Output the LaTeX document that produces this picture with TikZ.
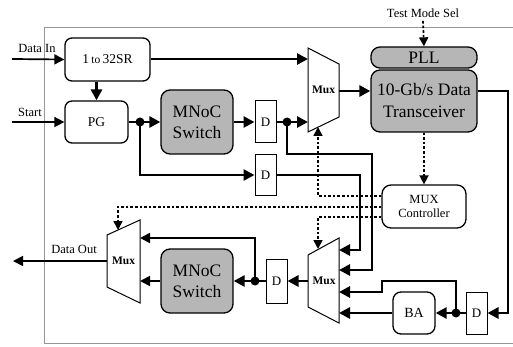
\documentclass[tikz,border=0pt]{standalone}
\usepackage{fontspec}
\setmainfont{Liberation Serif}
\usetikzlibrary{arrows.meta}
\definecolor{boxgray}{RGB}{182,182,182}
\definecolor{framegray}{RGB}{150,150,150}
\begin{document}
\begin{tikzpicture}[x=1pt,y=-1pt,
  rbox/.style={draw,line width=1.3pt,rounded corners=7pt,inner sep=0pt,align=center},
  gbox/.style={rbox,fill=boxgray,rounded corners=9pt},
  dbox/.style={draw,line width=1pt,inner sep=0pt,minimum width=21pt,font=\fontsize{13}{13}\selectfont},
  muxshape/.style={draw,line width=1pt,fill=white},
  muxlbl/.style={inner sep=0pt,font=\fontsize{11.5}{12}\selectfont\bfseries},
  thk/.style={line width=2.9pt,-{Triangle[length=11pt,width=11pt]}},
  thkn/.style={line width=2.9pt},
  thn/.style={line width=1.7pt,-{Triangle[length=10pt,width=10pt]}},
  dsh/.style={line width=1.7pt,dash pattern=on 2.6pt off 2pt,-{Triangle[length=9pt,width=9pt]}},
  jdot/.style={circle,fill=black,inner sep=0pt,minimum size=9pt},
  lbl/.style={inner sep=0pt,font=\fontsize{12.5}{13}\selectfont}
]
\useasboundingbox (0,0) rectangle (513,347);
% frame
\draw[framegray,line width=0.8pt] (530,27) -- (44,27) -- (44,343) -- (530,343);

% blocks
\node[rbox,minimum width=85pt,minimum height=43pt,font=\fontsize{13.5}{14}\selectfont] (sr) at (107.5,59.5) {1\,{\fontsize{11.5}{12}\selectfont to}\,32SR};
\node[rbox,minimum width=63pt,minimum height=42pt,font=\fontsize{13.5}{14}\selectfont] (pg) at (96.5,122) {PG};
\node[gbox,minimum width=72pt,minimum height=64pt,font=\fontsize{17.5}{21}\selectfont] (sw1) at (197,122) {MNoC\\Switch};
\node[dbox,minimum height=42pt] (d1) at (265.5,122) {D};
\node[dbox,minimum height=41pt] (d2) at (265.5,175) {D};
\node[gbox,minimum width=106pt,minimum height=21pt,font=\fontsize{17.5}{18}\selectfont] (pll) at (424,57.5) {PLL};
\node[gbox,minimum width=106pt,minimum height=62pt,font=\fontsize{17.5}{22}\selectfont] (xcv) at (424,101) {10-Gb/s Data\\Transceiver};
\node[rbox,minimum width=84pt,minimum height=43pt,rounded corners=9pt,font=\fontsize{12.5}{14}\selectfont] (ctrl) at (424,206.5) {MUX\\Controller};
\node[gbox,minimum width=72pt,minimum height=64pt,font=\fontsize{17.5}{21}\selectfont] (sw2) at (197,281) {MNoC\\Switch};
\node[dbox,minimum height=44pt] (d4) at (276.5,281) {D};
\node[dbox,minimum height=42pt] (d3) at (476.5,313) {D};
\node[rbox,minimum width=42pt,minimum height=42pt,rounded corners=8pt,font=\fontsize{14}{14}\selectfont] (ba) at (414,313) {BA};

% muxes
\draw[muxshape] (308,48) -- (339,64) -- (339,117) -- (308,132) -- cycle;
\node[muxlbl] (mux1) at (323.5,90) {Mux};
\draw[muxshape] (308,255) -- (339,238) -- (339,323) -- (308,307) -- cycle;
\node[muxlbl] (mux2) at (324,281) {Mux};
\draw[muxshape] (107,235) -- (140,220) -- (140,303) -- (107,287) -- cycle;
\node[muxlbl] (mux3) at (123.5,261) {Mux};

% mux ports
\coordinate (m1a) at (308,59);
\coordinate (m1b) at (308,122);
\coordinate (m1o) at (339,91);
\coordinate (m1s) at (318,127);
\coordinate (m2a) at (339,250);
\coordinate (m2b) at (339,270);
\coordinate (m2c) at (339,292);
\coordinate (m2d) at (339,313);
\coordinate (m2o) at (308,281);
\coordinate (m2s) at (318,249);
\coordinate (m3a) at (140,238);
\coordinate (m3b) at (140,281);
\coordinate (m3o) at (107,261);
\coordinate (m3s) at (118,230);

% external labels and ends
\node[lbl] (tdin) at (37,48) {Data In};
\node[lbl] (tstart) at (30,112) {Start};
\node[lbl] (tdout) at (74,249) {Data Out};
\node[lbl] (ttm) at (423,13) {Test Mode Sel};
\coordinate (din) at (12,59);
\coordinate (st) at (12,122);
\coordinate (dout) at (13,261);
\coordinate (tm) at (423,21);

% junction dots
\node[jdot] (j1) at (140,122) {};
\node[jdot] (j2) at (287,122) {};
\node[jdot] (j3) at (456,313) {};
\node[jdot] (j4) at (255,281) {};

% thin inputs / outputs
\draw[thn] (din) -- (sr.west);
\draw[thn] (st) -- (pg.west);
\draw[thn] (m3o) -- (dout);

% thick data paths
\draw[thk] (sr.south -| pg.north) -- (pg.north);
\draw[thk] (sr.east |- m1a) -- (m1a);
\draw[thkn] (pg.east) -- (j1.center);
\draw[thk] (j1.center) -- (sw1.west);
\draw[thk] (j1.center) -- (j1.center |- d2.west) -- (d2.west);
\draw[thk] (sw1.east) -- (d1.west);
\draw[thkn] (d1.east) -- (j2.center);
\draw[thk] (j2.center) -- (m1b);
\draw[thk] (j2.center) -- (287,154) -- (372,154) -- (372,270) -- (m2b);
\draw[thk] (d2.east) -- (360,175) -- (360,250) -- (m2a);
\draw[thk] (m1o) -- (xcv.west |- m1o);
\draw[thk] (xcv.east |- m1o) -- (508,91) -- (508,313) -- (d3.east);
\draw[thkn] (d3.west) -- (j3.center);
\draw[thk] (j3.center) -- (ba.east);
\draw[thk] (j3.center) -- (456,281) -- (382,281) -- (382,292) -- (m2c);
\draw[thk] (ba.west) -- (m2d);
\draw[thk] (m2o) -- (d4.east);
\draw[thkn] (d4.west) -- (j4.center);
\draw[thk] (j4.center) -- (sw2.east);
\draw[thn] (j4.center) -- (255,238) -- (m3a);
\draw[thn] (sw2.west) -- (m3b);

% control (dashed)
\draw[dsh] (tm) -- (pll.north);
\draw[dsh] (xcv.south) -- (ctrl.north);
\draw[dsh] (ctrl.west |- 0,196) -- (318,196) -- (m1s);
\draw[dsh] (ctrl.west |- 0,207) -- (118,207) -- (m3s);
\draw[dsh] (ctrl.west |- 0,217) -- (318,217) -- (m2s);
\end{tikzpicture}
\end{document}
